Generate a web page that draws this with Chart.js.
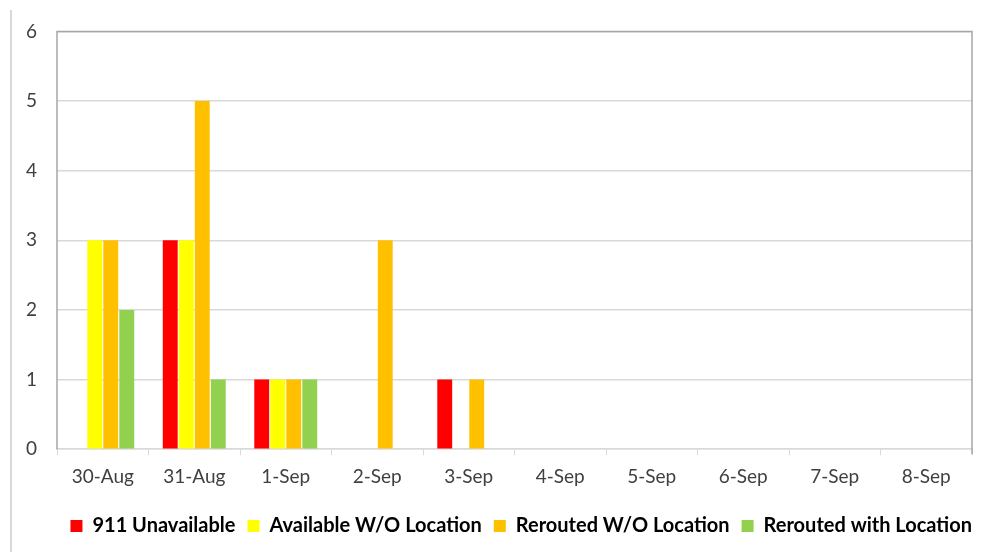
<!DOCTYPE html>
<html>
<head>
<meta charset="utf-8">
<script src="https://cdn.jsdelivr.net/npm/chart.js@4/dist/chart.umd.min.js"></script>
<style>
html,body{margin:0;padding:0;background:#fff;}
#wrap{position:relative;width:984px;height:552px;}
#edge{position:absolute;left:10px;top:10px;width:2px;height:542px;background:#d9d9d9;}
canvas{position:absolute;left:0;top:0;}
</style>
</head>
<body>
<div id="wrap">
<div id="edge"></div>
<canvas id="c" width="984" height="552"></canvas>
</div>
<script>
const categories = ["30-Aug","31-Aug","1-Sep","2-Sep","3-Sep","4-Sep","5-Sep","6-Sep","7-Sep","8-Sep"];
const unavailable = [0,3,1,0,1,0,0,0,0,0];
const availableNoLoc = [3,3,1,0,0,0,0,0,0,0];
const reroutedNoLoc = [3,5,1,3,1,0,0,0,0,0];
const reroutedWithLoc = [2,1,1,0,0,0,0,0,0,0];
const yTicks = [0,1,2,3,4,5,6];

const FONT = "Lato, 'Open Sans', sans-serif";

const framePlugin = {
  id: 'frame',
  afterLayout(chart) {
    if (chart.legend) { chart.legend.left += 12; chart.legend.right += 12; }
  },
  afterDraw(chart) {
    const {ctx, chartArea:a} = chart;
    ctx.save();
    ctx.strokeStyle = '#a6a6a6';
    ctx.lineWidth = 1.5;
    ctx.beginPath();
    ctx.moveTo(a.left, a.bottom);
    ctx.lineTo(a.left, a.top);
    ctx.lineTo(a.right, a.top);
    ctx.lineTo(a.right, a.bottom + 5);
    ctx.stroke();
    ctx.restore();
  }
};

new Chart(document.getElementById('c'), {
  type: 'bar',
  data: {
    labels: categories,
    datasets: [
      {label:'911 Unavailable', data: unavailable, backgroundColor:'#ff0000'},
      {label:'Available W/O Location', data: availableNoLoc, backgroundColor:'#ffff00'},
      {label:'Rerouted W/O Location', data: reroutedNoLoc, backgroundColor:'#ffc000'},
      {label:'Rerouted with Location', data: reroutedWithLoc, backgroundColor:'#92d050'}
    ]
  },
  options: {
    responsive: false,
    animation: false,
    devicePixelRatio: 1,
    layout: {padding: {left: 12, right: 12, top: 24, bottom: 6}},
    datasets: {bar: {categoryPercentage: 0.7, barPercentage: 0.93}},
    plugins: {
      tooltip: {enabled: false},
      legend: {
        position: 'bottom',
        align: 'end',
        labels: {
          boxWidth: 12, boxHeight: 12, padding: 12,
          color: '#000',
          font: {family: FONT, size: 20, weight: 'bold'}
        }
      }
    },
    scales: {
      x: {
        afterFit(s){ s.height += 6; },
        grid: {display: true, drawOnChartArea: false, drawTicks: true, tickLength: 6, color: '#d9d9d9', offset: true},
        border: {color: '#d9d9d9', width: 1.5},
        ticks: {color: '#404040', padding: 10, font: {family: FONT, size: 19}}
      },
      y: {
        min: 0, max: 6,
        afterFit(s){ s.width = 45; },
        afterBuildTicks(s){ s.ticks = yTicks.map(v => ({value: v})); },
        grid: {color: '#d9d9d9', lineWidth: 1.5, drawTicks: false},
        border: {display: false},
        ticks: {color: '#404040', padding: 20, font: {family: FONT, size: 19}}
      }
    }
  },
  plugins: [framePlugin]
});
</script>
</body>
</html>
